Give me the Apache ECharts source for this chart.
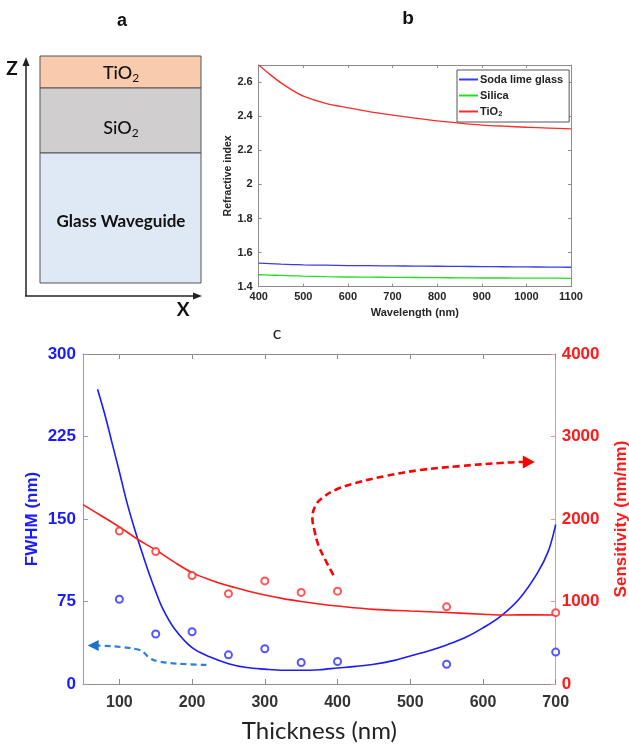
<!DOCTYPE html>
<html>
<head>
<meta charset="utf-8">
<script src="https://cdn.jsdelivr.net/npm/echarts@6/dist/echarts.min.js"></script>
<style>
  html, body { margin: 0; padding: 0; background: #fff; }
  #chart { width: 629px; height: 748px; }
</style>
</head>
<body>
<div id="chart"></div>
<script>
// ---- Panel b: refractive index vs wavelength ----
const wavelengthNm = [400, 425, 450, 475, 500, 550, 600, 650, 700, 750, 800, 850, 900, 950, 1000, 1050, 1100];
const nSodaLime = [1.538, 1.535, 1.532, 1.530, 1.528, 1.526, 1.524, 1.523, 1.522, 1.521, 1.520, 1.519, 1.518, 1.517, 1.516, 1.515, 1.514];
const nSilica = [1.470, 1.468, 1.466, 1.464, 1.462, 1.459, 1.457, 1.456, 1.455, 1.454, 1.453, 1.452, 1.451, 1.451, 1.450, 1.450, 1.449];
const nTiO2 = [2.700, 2.645, 2.595, 2.553, 2.518, 2.475, 2.449, 2.425, 2.406, 2.388, 2.372, 2.359, 2.348, 2.341, 2.335, 2.330, 2.325];

// ---- Panel c: FWHM and sensitivity vs TiO2 thickness ----
const thicknessNm = [100, 150, 200, 250, 300, 350, 400, 550, 700];
const fwhmNm = [77, 45.5, 47.5, 26.5, 32, 19.5, 20.5, 18, 29];
const sensitivityNmPerNm = [1855, 1605, 1315, 1095, 1250, 1110, 1125, 935, 865];

// fitted trends
const fwhmFitX = [70, 80, 90, 100, 110, 120, 130, 140, 150, 160, 175, 200, 225, 250, 275, 300, 325, 350, 375, 400, 425, 450, 475, 500, 525, 550, 575, 600, 625, 650, 675, 690, 700];
const fwhmFitY = [268, 245, 219, 193, 166, 143, 122, 102, 84, 68, 51, 33, 24.5, 18.5, 15, 13.5, 12.5, 12.5, 13, 14.5, 16, 18, 21, 25.5, 30, 35.5, 42, 51, 62, 77.5, 101, 121, 145];
const sensFitX = [50, 75, 100, 125, 150, 175, 200, 225, 250, 275, 300, 325, 350, 375, 400, 450, 500, 550, 600, 625, 650, 700];
const sensFitY = [2175, 2040, 1905, 1755, 1625, 1480, 1350, 1262, 1190, 1130, 1078, 1035, 1000, 970, 945, 905, 885, 866, 846, 836, 838, 836];

// guide arrows (data coordinates)
const sensArrowPath = [[394.3, 1321], [383.3, 1503], [373.6, 1685], [368.1, 1867], [365.4, 2012], [369.5, 2158], [379.1, 2255], [397, 2352], [424.6, 2436], [465.9, 2521], [514.1, 2594], [569.2, 2642], [624.3, 2679], [658.7, 2691]];
const sensArrowHead = [663, 2691];
const fwhmArrowPath = [[219.8, 17.3], [187.7, 18.2], [155.6, 20.3], [141.8, 23.4], [135, 27.9], [128, 30.9], [105, 33.4], [77.5, 34.8], [68, 35]];
const fwhmArrowHead = [64, 35];

const thicknessTicks = [100, 200, 300, 400, 500, 600, 700];

const zip = (xs, ys) => xs.map((x, i) => [x, ys[i]]);
const plain = (v) => String(v);

const ARIAL = 'Liberation Sans';
const CAL = 'Lato';

const chart = echarts.init(document.getElementById('chart'), null, { renderer: 'canvas' });

const option = {
  backgroundColor: '#fff',
  animation: false,
  graphic: [
    // panel labels
    { type: 'text', style: { text: 'a', x: 122, y: 21, align: 'center', verticalAlign: 'middle', font: 'bold 18px "Liberation Sans"', fill: '#111' } },
    { type: 'text', style: { text: 'b', x: 408, y: 19, align: 'center', verticalAlign: 'middle', font: 'bold 19px "Liberation Sans"', fill: '#111' } },
    { type: 'text', style: { text: 'c', x: 277, y: 333, align: 'center', verticalAlign: 'middle', font: '18px Lato', fill: '#222' } },

    // layer stack schematic
    { type: 'rect', shape: { x: 40, y: 56, width: 161, height: 32 }, style: { fill: '#f8cbad', stroke: '#555', lineWidth: 1 } },
    { type: 'rect', shape: { x: 40, y: 88, width: 161, height: 65 }, style: { fill: '#d0cece', stroke: '#555', lineWidth: 1 } },
    { type: 'rect', shape: { x: 40, y: 153, width: 161, height: 130 }, style: { fill: '#dfe9f5', stroke: '#555', lineWidth: 1 } },
    { type: 'text', style: { text: 'TiO{sub|2}', x: 121, y: 73, align: 'center', verticalAlign: 'middle', fontFamily: CAL, fontSize: 18, fontWeight: 500, fill: '#111', lineHeight: 22, rich: { sub: { fontFamily: CAL, fontSize: 12, lineHeight: 12, verticalAlign: 'bottom', fill: '#111' } } } },
    { type: 'text', style: { text: 'SiO{sub|2}', x: 121, y: 128, align: 'center', verticalAlign: 'middle', fontFamily: CAL, fontSize: 18, fontWeight: 500, fill: '#111', lineHeight: 22, rich: { sub: { fontFamily: CAL, fontSize: 12, lineHeight: 12, verticalAlign: 'bottom', fill: '#111' } } } },
    { type: 'text', style: { text: 'Glass Waveguide', x: 121, y: 222, align: 'center', verticalAlign: 'middle', font: 'bold 17px Lato', fill: '#111' } },

    // schematic axes
    { type: 'polyline', shape: { points: [[26, 296], [26, 64]] }, style: { stroke: '#222', lineWidth: 1.5 } },
    { type: 'polygon', shape: { points: [[26, 57], [22.5, 66], [29.5, 66]] }, style: { fill: '#222' } },
    { type: 'polyline', shape: { points: [[25, 296], [194, 296]] }, style: { stroke: '#222', lineWidth: 1.5 } },
    { type: 'polygon', shape: { points: [[202, 296], [193, 292.5], [193, 299.5]] }, style: { fill: '#222' } },
    { type: 'text', style: { text: 'Z', x: 12, y: 69, align: 'center', verticalAlign: 'middle', font: 'bold 19px Lato', fill: '#111' } },
    { type: 'text', style: { text: 'X', x: 183, y: 310, align: 'center', verticalAlign: 'middle', font: 'bold 19px Lato', fill: '#111' } }
  ],
  legend: {
    data: ['Soda lime glass', 'Silica', 'TiO2'],
    orient: 'vertical',
    left: 457,
    top: 70,
    backgroundColor: '#fff',
    borderColor: '#555',
    borderWidth: 1,
    borderRadius: 0,
    padding: [3, 6, 4, 2],
    itemWidth: 19,
    itemHeight: 2,
    itemGap: 3,
    icon: 'rect',
    textStyle: {
      fontFamily: ARIAL, fontWeight: 'bold', fontSize: 11, color: '#222', lineHeight: 13, padding: [0, 0, 0, -3],
      rich: { sub: { fontFamily: ARIAL, fontWeight: 'bold', fontSize: 7.5, lineHeight: 8, verticalAlign: 'bottom', color: '#222' } }
    },
    formatter: (n) => (n === 'TiO2' ? 'TiO{sub|2}' : n)
  },
  grid: [
    { left: 258.7, top: 65, width: 312.3, height: 221.7, containLabel: false, outerBoundsMode: 'none' },
    { left: 83, top: 354, width: 472.7, height: 330, containLabel: false, outerBoundsMode: 'none' }
  ],
  xAxis: [
    {
      gridIndex: 0, type: 'value', min: 400, max: 1100, interval: 100, position: 'bottom',
      axisLine: { onZero: false, lineStyle: { color: '#8c8c8c', width: 1 } },
      axisTick: { inside: true, length: 3, lineStyle: { color: '#8c8c8c' } },
      axisLabel: { formatter: plain, fontFamily: ARIAL, fontWeight: 'bold', fontSize: 11, color: '#262626', margin: 5 },
      splitLine: { show: false },
      name: 'Wavelength (nm)', nameLocation: 'middle', nameGap: 21,
      nameTextStyle: { fontFamily: ARIAL, fontWeight: 'bold', fontSize: 11, color: '#262626' }
    },
    {
      gridIndex: 0, type: 'value', min: 400, max: 1100, interval: 100, position: 'top',
      axisLine: { onZero: false, lineStyle: { color: '#8c8c8c', width: 1 } },
      axisTick: { inside: true, length: 3, lineStyle: { color: '#8c8c8c' } },
      axisLabel: { show: false }, splitLine: { show: false }
    },
    {
      gridIndex: 1, type: 'value', min: 50, max: 700, position: 'bottom',
      axisLine: { onZero: false, lineStyle: { color: '#8c8c8c', width: 1 } },
      axisTick: { inside: true, length: 5, customValues: thicknessTicks, lineStyle: { color: '#8c8c8c' } },
      axisLabel: { customValues: thicknessTicks, formatter: plain, fontFamily: ARIAL, fontWeight: 'bold', fontSize: 16, color: '#333', margin: 11 },
      splitLine: { show: false },
      name: 'Thickness (nm)', nameLocation: 'middle', nameGap: 35,
      nameTextStyle: { fontFamily: CAL, fontSize: 24, color: '#222' }
    },
    {
      gridIndex: 1, type: 'value', min: 50, max: 700, position: 'top',
      axisLine: { onZero: false, lineStyle: { color: '#8c8c8c', width: 1 } },
      axisTick: { inside: true, length: 5, customValues: thicknessTicks, lineStyle: { color: '#8c8c8c' } },
      axisLabel: { show: false }, splitLine: { show: false }
    }
  ],
  yAxis: [
    {
      gridIndex: 0, type: 'value', min: 1.4, max: 2.7, interval: 0.2, position: 'left',
      axisLine: { show: true, onZero: false, lineStyle: { color: '#8c8c8c', width: 1 } },
      axisTick: { show: true, inside: true, length: 3, lineStyle: { color: '#8c8c8c' } },
      axisLabel: { showMaxLabel: false, formatter: plain, fontFamily: ARIAL, fontWeight: 'bold', fontSize: 11, color: '#262626', margin: 6 },
      splitLine: { show: false },
      name: 'Refractive index', nameLocation: 'middle', nameGap: 25,
      nameTextStyle: { fontFamily: ARIAL, fontWeight: 'bold', fontSize: 10.5, color: '#262626' }
    },
    {
      gridIndex: 0, type: 'value', min: 1.4, max: 2.7, interval: 0.2, position: 'right',
      axisLine: { show: true, onZero: false, lineStyle: { color: '#8c8c8c', width: 1 } },
      axisTick: { show: true, inside: true, length: 3, lineStyle: { color: '#8c8c8c' } },
      axisLabel: { show: false }, splitLine: { show: false }
    },
    {
      gridIndex: 1, type: 'value', min: 0, max: 300, interval: 75, position: 'left',
      axisLine: { show: true, onZero: false, lineStyle: { color: '#8f8fff', width: 1 } },
      axisTick: { show: true, inside: true, length: 5, lineStyle: { color: '#8f8fff' } },
      axisLabel: { formatter: plain, fontFamily: ARIAL, fontWeight: 'bold', fontSize: 17, color: '#1a1aff', margin: 7 },
      splitLine: { show: false },
      name: 'FWHM (nm)', nameLocation: 'middle', nameGap: 42, nameMoveOverlap: false,
      nameTextStyle: { fontFamily: ARIAL, fontWeight: 'bold', fontSize: 17, color: '#1a1aff' }
    },
    {
      gridIndex: 1, type: 'value', min: 0, max: 4000, interval: 1000, position: 'right',
      axisLine: { show: true, onZero: false, lineStyle: { color: '#ff8f8f', width: 1 } },
      axisTick: { show: true, inside: true, length: 5, lineStyle: { color: '#ff8f8f' } },
      axisLabel: { formatter: plain, fontFamily: ARIAL, fontWeight: 'bold', fontSize: 17, color: '#ff1a1a', margin: 6 },
      splitLine: { show: false },
      name: 'Sensitivity (nm/nm)', nameLocation: 'middle', nameGap: 57, nameMoveOverlap: false,
      nameTextStyle: { fontFamily: ARIAL, fontWeight: 'bold', fontSize: 17, color: '#ff1a1a' }
    }
  ],
  series: [
    // panel b
    { name: 'Soda lime glass', type: 'line', xAxisIndex: 0, yAxisIndex: 0, data: zip(wavelengthNm, nSodaLime), symbol: 'none', smooth: 0.3, color: '#3a3af0', lineStyle: { width: 1.3 } },
    { name: 'Silica', type: 'line', xAxisIndex: 0, yAxisIndex: 0, data: zip(wavelengthNm, nSilica), symbol: 'none', smooth: 0.3, color: '#22dd22', lineStyle: { width: 1.3 } },
    { name: 'TiO2', type: 'line', xAxisIndex: 0, yAxisIndex: 0, data: zip(wavelengthNm, nTiO2), symbol: 'none', smooth: 0.3, color: '#ff2a2a', lineStyle: { width: 1.3 } },

    // panel c: fits
    { name: 'FWHM fit', type: 'line', xAxisIndex: 2, yAxisIndex: 2, data: zip(fwhmFitX, fwhmFitY), symbol: 'none', smooth: 0.35, color: '#1a1aff', lineStyle: { width: 1.6 }, z: 3 },
    { name: 'Sensitivity fit', type: 'line', xAxisIndex: 2, yAxisIndex: 3, data: zip(sensFitX, sensFitY), symbol: 'none', smooth: 0.35, color: '#ff1a1a', lineStyle: { width: 1.6 }, z: 3 },

    // panel c: measured points
    { name: 'FWHM', type: 'scatter', xAxisIndex: 2, yAxisIndex: 2, data: zip(thicknessNm, fwhmNm), symbol: 'emptyCircle', symbolSize: 7, color: '#2a2aff', itemStyle: { borderWidth: 1.2 }, z: 4 },
    { name: 'Sensitivity', type: 'scatter', xAxisIndex: 2, yAxisIndex: 3, data: zip(thicknessNm, sensitivityNmPerNm), symbol: 'emptyCircle', symbolSize: 7, color: '#ff2a2a', itemStyle: { borderWidth: 1.2 }, z: 4 },

    // guide arrows
    {
      name: 'sens arrow', type: 'line', xAxisIndex: 2, yAxisIndex: 3, smooth: 0.4, color: '#ff0000',
      lineStyle: { width: 2.6, type: [7, 4] }, symbol: 'none', showSymbol: true,
      data: sensArrowPath.concat([{ value: sensArrowHead, symbol: 'triangle', symbolSize: [13, 12], symbolRotate: -90, itemStyle: { color: '#ff0000', borderWidth: 0 } }]),
      z: 2, silent: true
    },
    {
      name: 'fwhm arrow', type: 'line', xAxisIndex: 2, yAxisIndex: 2, smooth: 0.4, color: '#2b80dc',
      lineStyle: { width: 2.2, type: [6, 4] }, symbol: 'none', showSymbol: true,
      data: fwhmArrowPath.concat([{ value: fwhmArrowHead, symbol: 'triangle', symbolSize: [11, 11], symbolRotate: 90, itemStyle: { color: '#1f6fd0', borderWidth: 0 } }]),
      z: 2, silent: true
    }
  ]
};

chart.setOption(option);
</script>
</body>
</html>
